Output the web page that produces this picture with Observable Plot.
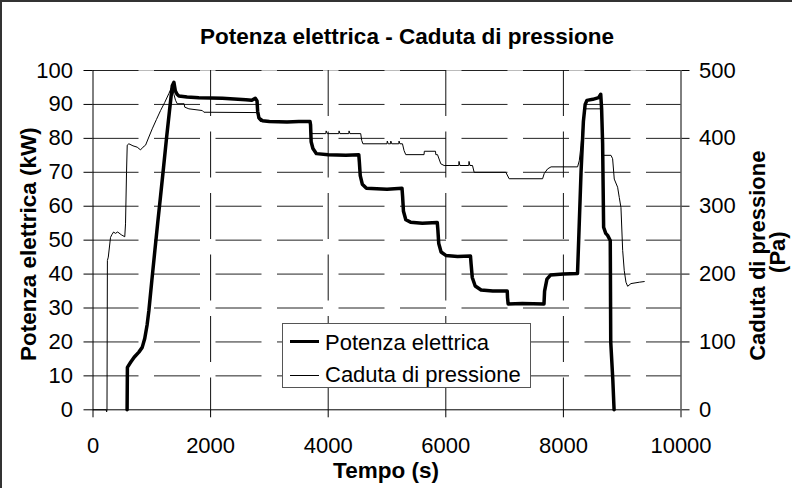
<!DOCTYPE html>
<html><head><meta charset="utf-8">
<script src="https://cdn.jsdelivr.net/npm/d3@7"></script>
<script src="https://cdn.jsdelivr.net/npm/@observablehq/plot@0.6"></script>
<style>
html,body{margin:0;padding:0;background:#fff;}
#wrap{position:relative;width:792px;height:488px;overflow:hidden;font-family:"Liberation Sans",Arial,sans-serif;}
#wrap svg{position:absolute;left:0;top:0;}
#border{position:absolute;left:0;top:0;width:792px;height:488px;border-top:2px solid #333;border-left:2px solid #333;box-sizing:border-box;pointer-events:none;}
#legend{position:absolute;left:282px;top:323px;width:249px;height:65px;box-sizing:border-box;border:1px solid #555;background:#fff;}
#legend .sample{position:absolute;left:7px;width:29px;background:#000;}
#legend .lbl{position:absolute;left:42px;font-size:22px;line-height:22px;white-space:nowrap;color:#000;}
</style>
</head><body>
<div id="wrap"><div id="border"></div></div>
<script>
// ---- data ----
const title = "Potenza elettrica - Caduta di pressione";
const xLabel = "Tempo (s)";
const yLeftLabel = "Potenza elettrica (kW)";
const yRightLabel1 = "Caduta di pressione";
const yRightLabel2 = "(Pa)";
const seriesNames = ["Potenza elettrica", "Caduta di pressione"];

const xTicks = [0, 2000, 4000, 6000, 8000, 10000];
const leftTicks = [0, 10, 20, 30, 40, 50, 60, 70, 80, 90, 100];
const rightTicks = [0, 100, 200, 300, 400, 500];

// Potenza elettrica (kW)
const powerTime = [580,585,640,700,780,837,880,920,950,1000,1052,1100,1149,1200,1250,1300,1348,1376,1400,1430,1461,1600,1800,2000,2200,2400,2600,2700,2760,2790,2800,2822,2880,3000,3300,3500,3690,3700,3710,3740,3800,4000,4300,4520,4530,4545,4580,4650,5000,5255,5265,5280,5320,5400,5600,5855,5865,5880,5920,6000,6200,6420,6430,6450,6500,6600,6800,7045,7050,7060,7300,7670,7680,7720,7780,8000,8240,8260,8300,8340,8370,8400,8500,8600,8635,8650,8667,8684,8720,8752,8797,8805,8840,8862];
const powerKW   = [0,12.5,14,15.5,17,18.4,21,25,29.2,38,46.9,55,63,71.5,80,88,95.5,96.5,94,93,92.5,92.2,92,91.9,91.8,91.6,91.4,91.2,91.8,91,88,86,85.2,85,84.8,85,85,84,79,77,75.5,75.2,75,75.2,73,69,66.5,65.3,65,65.3,63,58.5,56,55.3,55,55.2,53,49,46.5,45.5,45.2,45.3,43,39,36.5,35.3,35,35,33,31.2,31.3,31.2,35,38.5,39.7,40,40.2,50,70,85,90,91.2,91.5,92,93,88.7,78.4,53.8,52,51.4,49.9,20,9,0];

// Caduta di pressione (Pa)
const pressureTime = [0,225,232,238,245,260,298,320,350,380,420,480,540,553,570,582,610,680,752,808,850,894,950,1007,1080,1149,1220,1290,1336,1350,1375,1404,1433,1550,1560,1631,1859,1886,2780,2795,2815,2840,3690,3702,3720,3960,3965,3985,4180,4185,4200,4350,4355,4370,4553,4570,4590,5000,5005,5020,5060,5065,5080,5200,5205,5220,5263,5290,5319,5630,5635,5825,5830,5859,5915,5971,6220,6225,6240,6390,6395,6410,6454,6482,7021,7077,7646,7673,7731,7790,8241,8270,8300,8330,8354,8380,8640,8650,8667,8809,8837,8865,8922,8950,8979,9008,9035,9064,9093,9149,9290,9375];
const pressurePa   = [0,0,-3,0,220,225,254,258,262,260,262,258,255,274,350,390,392,389,387,383,387,390,402,414,428,441,453,466,475,478,465,456,451,451,446,443.5,441,438.5,438,436,428,425,425,420,407,407,411,407,407,411,407,407,411,407,407,397,392,392,396,392,392,396,392,392,396,392,392,382,376,376,381,381,376,376,362.5,360,360,366,360,360,366,360,360,350,350,340.5,340.5,348,355,358,358,367,390,420,441,443.5,443.5,420,375,375,370,340,328,313,298,235,205,188,182,186,188,189];

const power = powerTime.map((t, i) => ({t, v: powerKW[i]}));
const pressure = pressureTime.map((t, i) => ({t, v: pressurePa[i]}));

const font = '"Liberation Sans", Arial, sans-serif';

const chart = Plot.plot({
  width: 792,
  height: 488,
  marginLeft: 92.5,
  marginRight: 111.5,
  marginTop: 70,
  marginBottom: 78.7,
  style: {fontFamily: font, fontSize: "22px", color: "#000", background: "transparent", overflow: "visible"},
  x: {domain: [0, 10000]},
  y: {domain: [0, 100]},
  marks: [
    Plot.ruleY([100], {stroke: "#bbb", strokeWidth: 1}),
    Plot.ruleY(leftTicks.filter(d => d > 0), {stroke: "#222", strokeDasharray: "46,15.5"}),
    Plot.ruleX(xTicks.filter(d => d > 0 && d < 10000), {stroke: "#111", strokeDasharray: "46,15.5"}),
    Plot.axisY({ticks: leftTicks, tickSize: 9, tickPadding: 11, label: null}),
    Plot.axisY({anchor: "right", ticks: rightTicks.map(d => d / 5), tickFormat: d => String(Math.round(d * 5)), tickSize: 8, tickPadding: 10, label: null}),
    Plot.axisX({ticks: xTicks, tickSize: 8, tickPadding: 20, label: null, tickFormat: d => String(d)}),
    Plot.ruleX([0, 10000], {stroke: "#000"}),
    Plot.ruleY([0], {stroke: "#000"}),
    Plot.line(pressure, {x: "t", y: d => d.v / 5, stroke: "#000", strokeWidth: 1}),
    Plot.line(power, {x: "t", y: "v", stroke: "#000", strokeWidth: 3.5, strokeLinejoin: "round"}),
    Plot.text([title], {frameAnchor: "top", dx: 20, dy: -27, lineAnchor: "bottom", textAnchor: "middle", fontWeight: "bold", fontSize: 22.5}),
    Plot.text([xLabel], {frameAnchor: "bottom", dx: -1, dy: 68, lineAnchor: "bottom", textAnchor: "middle", fontWeight: "bold", fontSize: 22.5}),
    Plot.text([yLeftLabel], {frameAnchor: "left", rotate: -90, dx: -64.5, dy: 4, lineAnchor: "middle", textAnchor: "middle", fontWeight: "bold", fontSize: 22.5}),
    Plot.text([yRightLabel1], {frameAnchor: "right", rotate: -90, dx: 77, dy: 15.5, lineAnchor: "middle", textAnchor: "middle", fontWeight: "bold", fontSize: 22}),
    Plot.text([yRightLabel2], {frameAnchor: "right", rotate: -90, dx: 97, dy: 12, lineAnchor: "middle", textAnchor: "middle", fontWeight: "bold", fontSize: 22})
  ]
});

const wrap = document.getElementById("wrap");
wrap.insertBefore(chart, wrap.firstChild);

// legend
const legend = document.createElement("div");
legend.id = "legend";
const rows = [{name: seriesNames[0], w: 3.5, cy: 17.4, top: 8}, {name: seriesNames[1], w: 1, cy: 51, top: 40}];
for (const r of rows) {
  const s = document.createElement("div");
  s.className = "sample";
  s.style.top = (r.cy - r.w / 2) + "px";
  s.style.height = r.w + "px";
  legend.appendChild(s);
  const l = document.createElement("div");
  l.className = "lbl";
  l.style.top = r.top + "px";
  l.textContent = r.name;
  legend.appendChild(l);
}
wrap.appendChild(legend);
</script>
</body></html>
